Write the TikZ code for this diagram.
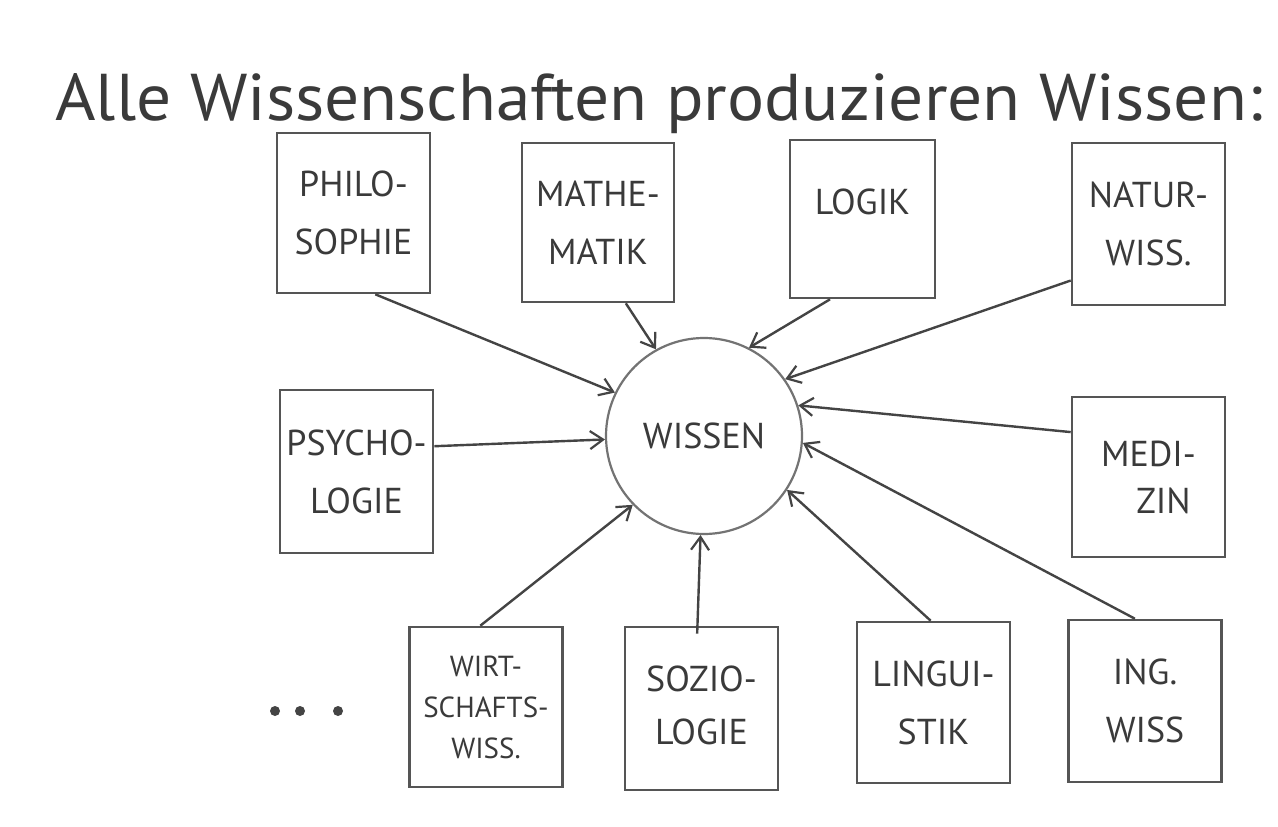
\documentclass[tikz,border=0pt]{standalone}
\usepackage{fontspec}
\setmainfont{PT Sans}
\usetikzlibrary{arrows.meta}
\definecolor{ink}{HTML}{444444}
\definecolor{boxink}{HTML}{555555}
\definecolor{txt}{HTML}{3A3A3A}
\tikzset{
  field/.style={draw=boxink, line width=2.6pt, minimum width=153pt, minimum height=160pt,
    inner sep=0pt, align=center, text=txt, font=\fontsize{36}{58}\selectfont},
  hub/.style={circle, draw=ink!75, line width=2.2pt, minimum size=196pt, inner sep=0pt,
    text=txt, font=\fontsize{36}{40}\selectfont},
  feed/.style={draw=ink, line width=2.4pt, -{Straight Barb[length=13pt,width=18pt,line width=2.2pt]}},
}
\begin{document}
\begin{tikzpicture}[x=1pt,y=-1pt]
\useasboundingbox (0,0) rectangle (1278,827);
\fill[white] (0,0) rectangle (1278,827);

\node[text=txt, anchor=base west, inner sep=0pt] (title) at (55,120)
  {\resizebox{1207pt}{47pt}{\fontsize{50}{60}\selectfont Alle Wissenschaften produzieren Wissen:}};

\node[hub] (w) at (704,436) {WISSEN};

\node[field] (phil) at (353.5,213) {PHILO-\\SOPHIE};
\node[field, minimum width=152pt, minimum height=159pt] (math) at (598,222.5) {MATHE-\\MATIK};
\node[field, minimum width=145pt, minimum height=158pt] (logik) at (862.5,219) {\raisebox{34pt}{LOGIK}};
\node[field, minimum height=162pt] (natur) at (1148.5,224) {NATUR-\\WISS.};
\node[field, minimum height=163pt] (psych) at (356.5,471.5) {PSYCHO-\\LOGIE};
\node[field] (medi) at (1148.5,477) {\raisebox{-14pt}{\shortstack{MEDI-\\[18pt]\hspace*{30pt}ZIN}}};
\node[field, font=\fontsize{29}{41}\selectfont] (wirt) at (486,707) {WIRT-\\SCHAFTS-\\WISS.};
\node[field, minimum height=163pt] (sozio) at (701.5,708.5) {\raisebox{6pt}{\shortstack{SOZIO-\\[24pt]LOGIE}}};
\node[field, minimum height=161pt] (lingu) at (933.5,702.5) {LINGUI-\\STIK};
\node[field, minimum height=162pt] (ing) at (1145,701) {ING.\\WISS};

\foreach \x in {275,300,338} \fill[ink] (\x,711) circle (5pt);

\draw[feed] (phil.-75) -- (w.154);
\draw[feed] (math.-71) -- (w.119);
\draw[feed] (logik.-112) -- (w.63);
\draw[feed] (natur.216) -- (w.35);
\draw[feed] (psych.18) -- (w.182);
\draw[feed] (medi.150) -- (w.18);
\draw[feed] (wirt.94) -- (w.224);
\draw[feed] ([yshift=-8pt]sozio.93) -- (w.268);
\draw[feed] (lingu.92) -- (w.-33);
\draw[feed] (ing.97) -- (w.-4);
\end{tikzpicture}
\end{document}
